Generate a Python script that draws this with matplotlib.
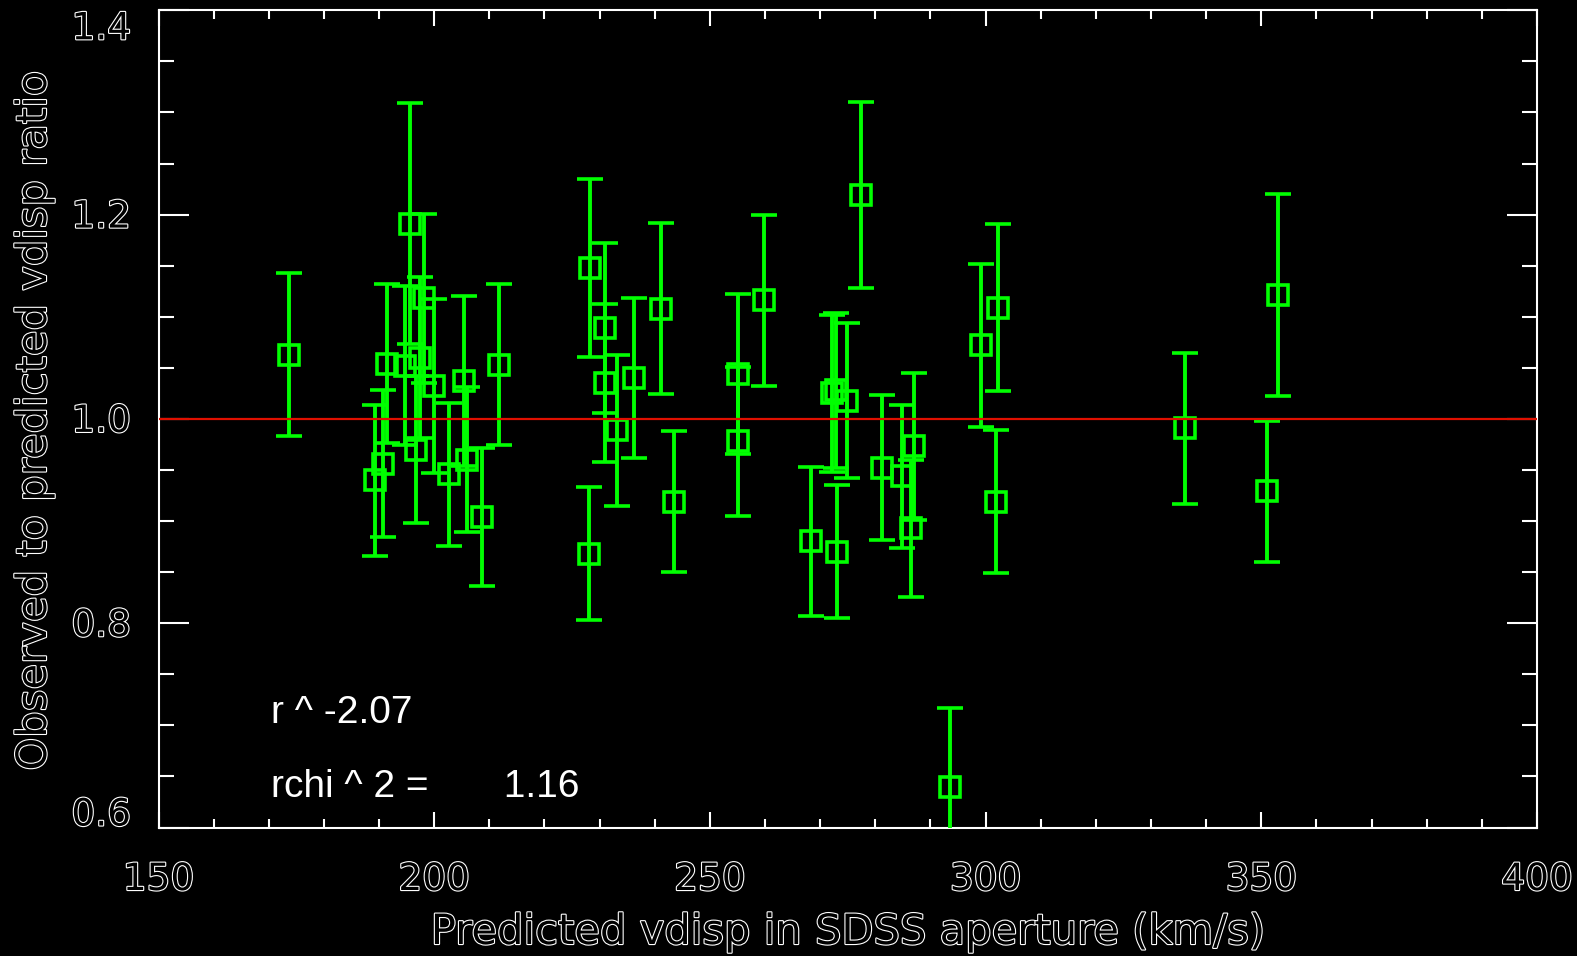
import matplotlib
matplotlib.use("Agg")
import matplotlib.pyplot as plt
import matplotlib.patheffects as pe
from matplotlib.ticker import MultipleLocator

# Predicted velocity dispersion in the SDSS aperture (km/s)
vdisp_pred = [173.7, 195.6, 198.2, 197.4, 191.4, 194.7, 200.0, 205.4, 205.9, 211.7,
              196.7, 202.7, 190.7, 189.2, 208.7,
              228.2, 230.9, 230.9, 233.2, 236.3, 241.2, 228.0, 243.4, 255.1, 255.1, 259.9,
              277.4, 302.2, 299.2, 301.9, 272.8, 272.2, 274.8, 268.4, 273.1, 281.3,
              284.9, 287.1, 286.4, 293.5, 336.1, 351.1, 353.0]
# Observed / predicted dispersion ratio
ratio = [1.063, 1.191, 1.118, 1.060, 1.054, 1.052, 1.032, 1.037, 0.960, 1.053,
         0.970, 0.946, 0.956, 0.940, 0.904,
         1.148, 1.089, 1.035, 0.989, 1.040, 1.108, 0.868, 0.919, 1.044, 0.978, 1.116,
         1.219, 1.109, 1.072, 0.919, 1.028, 1.025, 1.018, 0.880, 0.870, 0.952,
         0.944, 0.973, 0.893, 0.640, 0.991, 0.929, 1.121]
# One-sigma uncertainty on the ratio
ratio_err = [0.080, 0.118, 0.083, 0.079, 0.078, 0.078, 0.085, 0.083, 0.071, 0.079,
             0.072, 0.070, 0.072, 0.074, 0.068,
             0.087, 0.083, 0.077, 0.074, 0.078, 0.084, 0.065, 0.069, 0.078, 0.073, 0.084,
             0.091, 0.082, 0.080, 0.070, 0.076, 0.077, 0.076, 0.073, 0.065, 0.071,
             0.070, 0.072, 0.067, 0.077, 0.074, 0.069, 0.099]

x_ticks = [150, 200, 250, 300, 350, 400]
x_ticklabels = ["150", "200", "250", "300", "350", "400"]
y_ticks = [0.6, 0.8, 1.0, 1.2, 1.4]
y_ticklabels = ["0.6", "0.8", "1.0", "1.2", "1.4"]
slope_text = "r ^ -2.07"
chi_text = "rchi ^ 2 =       1.16"

W, H = 1577, 956
fig = plt.figure(figsize=(W / 100, H / 100), dpi=100, facecolor="black")
x0, x1, ytop, ybot = 158.5, 1537.0, 10.3, 827.5
ax = fig.add_axes([x0 / W, 1 - ybot / H, (x1 - x0) / W, (ybot - ytop) / H])
ax.set_facecolor("black")

green = "#00ff00"
ax.errorbar(vdisp_pred, ratio, yerr=ratio_err, fmt="s", color=green,
            mfc="none", mec=green, ms=14.5, mew=2.6,
            elinewidth=2.8, capsize=9.7, capthick=2.8, zorder=3)
ax.axhline(1.0, color="#e01000", lw=1.6, zorder=5)

ax.set_xlim(150, 400)
ax.set_ylim(0.6, 1.4)

for s in ax.spines.values():
    s.set_color("white")
    s.set_linewidth(1.5)

ax.xaxis.set_major_locator(MultipleLocator(50))
ax.xaxis.set_minor_locator(MultipleLocator(10))
ax.yaxis.set_major_locator(MultipleLocator(0.2))
ax.yaxis.set_minor_locator(MultipleLocator(0.05))
ax.tick_params(which="both", direction="in", colors="white", width=1.5,
               top=True, right=True)
ax.tick_params(axis="x", which="major", length=11.5)
ax.tick_params(axis="x", which="minor", length=6.5)
ax.tick_params(axis="y", which="major", length=21.5)
ax.tick_params(axis="y", which="minor", length=11)
ax.set_xticks(x_ticks)
ax.set_xticklabels([])
ax.set_yticks(y_ticks)
ax.set_yticklabels([])

outline = [pe.Stroke(linewidth=1.6, foreground="white"), pe.Normal()]
tick_kw = dict(color="black", fontsize=27, family="DejaVu Sans", path_effects=outline)
title_kw = dict(color="black", fontsize=30, family="DejaVu Sans", path_effects=outline)

# x tick labels
for v, t in zip(x_ticks, x_ticklabels):
    px = x0 + (v - 150) / 250 * (x1 - x0)
    fig.text(px / W, 1 - 890 / H, t, ha="center", va="baseline", **tick_kw)

# y tick labels (end labels nudged inside the frame)
y_shift = {0.6: -12, 1.4: 19}
for v, t in zip(y_ticks, y_ticklabels):
    py = ytop + (1.4 - v) / 0.8 * (ybot - ytop) + y_shift.get(v, 3)
    fig.text(131 / W, 1 - py / H, t, ha="right", va="center", **tick_kw)

fig.text((x0 + x1) / 2 / W, 1 - 944 / H, "Predicted vdisp in SDSS aperture (km/s)",
         ha="center", va="baseline", **title_kw)
fig.text(34 / W, 1 - 421 / H, "Observed to predicted vdisp ratio",
         ha="center", va="center", rotation=90, **title_kw)

ax.text(170.4, 0.7023, slope_text, color="white", fontsize=28,
        family="Liberation Sans", va="baseline", ha="left")
ax.text(170.4, 0.6300, chi_text, color="white", fontsize=28,
        family="Liberation Sans", va="baseline", ha="left")

fig.savefig("out.png", dpi=100, facecolor="black")
